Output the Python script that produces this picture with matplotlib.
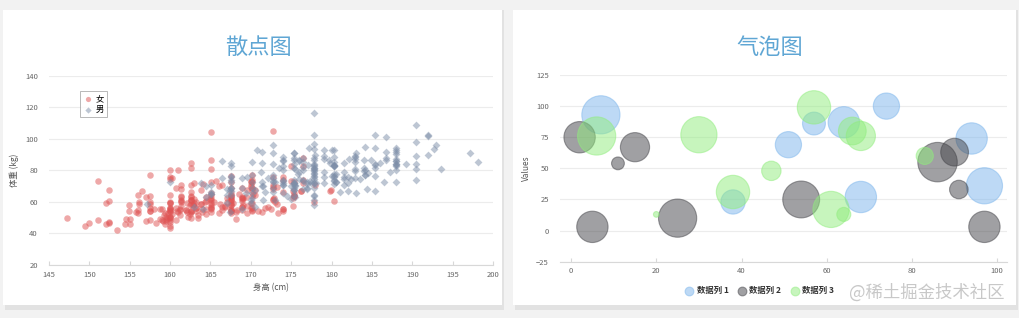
import matplotlib.pyplot as plt
from matplotlib.patches import Rectangle

plt.rcParams['font.family'] = ['Noto Sans CJK SC', 'DejaVu Sans']

# height (cm), weight (kg)
female = [
    [161.2, 51.6], [167.5, 59.0], [159.5, 49.2], [157.0, 63.0], [155.8, 53.6], [170.0, 59.0], [159.1, 47.6],
    [166.0, 69.8], [176.2, 66.8], [160.2, 75.2], [172.5, 55.2], [170.9, 54.2], [172.9, 62.5], [153.4, 42.0],
    [160.0, 50.0], [147.2, 49.8], [168.2, 49.2], [175.0, 73.2], [157.0, 47.8], [167.6, 68.8], [159.5, 50.6],
    [175.0, 82.5], [166.8, 57.2], [176.5, 87.8], [170.2, 72.8], [174.0, 54.5], [173.0, 59.8], [179.9, 67.3],
    [170.5, 67.8], [160.0, 47.0], [154.4, 46.2], [162.0, 55.0], [176.5, 83.0], [160.0, 54.4], [152.0, 45.8],
    [162.1, 53.6], [170.0, 73.2], [160.2, 52.1], [161.3, 67.9], [166.4, 56.6], [168.9, 62.3], [163.8, 58.5],
    [167.6, 54.5], [160.0, 50.2], [161.3, 60.3], [167.6, 58.3], [165.1, 56.2], [160.0, 50.2], [170.0, 72.9],
    [157.5, 59.8], [167.6, 61.0], [160.7, 69.1], [163.2, 55.9], [152.4, 46.5], [157.5, 54.3], [168.3, 54.8],
    [180.3, 60.7], [165.5, 60.0], [165.0, 62.0], [164.5, 60.3], [156.0, 52.7], [160.0, 74.3], [163.0, 62.0],
    [165.7, 73.1], [161.0, 80.0], [162.0, 54.7], [166.0, 53.2], [174.0, 75.7], [172.7, 61.1], [167.6, 55.7],
    [151.1, 48.7], [164.5, 52.3], [163.5, 50.0], [152.0, 59.3], [169.0, 62.5], [164.0, 55.7], [161.2, 54.8],
    [155.0, 45.9], [170.0, 70.6], [176.2, 67.2], [170.0, 69.4], [162.5, 58.2], [170.3, 64.8], [164.1, 71.6],
    [169.5, 52.8], [163.2, 59.8], [154.5, 49.0], [159.8, 50.0], [173.2, 69.2], [170.0, 55.9], [161.4, 63.4],
    [169.0, 58.2], [166.2, 58.6], [159.4, 45.7], [162.5, 52.2], [159.0, 48.6], [162.8, 57.8], [159.0, 55.6],
    [179.8, 66.8], [162.9, 59.4], [161.0, 53.6], [151.1, 73.2], [168.2, 53.4], [168.9, 69.0], [173.2, 58.4],
    [171.8, 56.2], [178.0, 70.6], [164.3, 59.8], [163.0, 72.0], [168.5, 65.2], [166.8, 56.6], [172.7, 105.2],
    [163.5, 51.8], [169.4, 63.4], [167.8, 59.0], [159.5, 47.6], [167.6, 63.0], [161.2, 55.2], [160.0, 45.0],
    [163.2, 54.0], [162.2, 50.2], [161.3, 60.2], [149.5, 44.8], [157.5, 58.8], [163.2, 56.4], [172.7, 62.0],
    [155.0, 49.2], [156.5, 67.2], [164.0, 53.8], [160.9, 54.4], [162.8, 58.0], [167.0, 59.8], [160.0, 54.8],
    [160.0, 43.2], [168.9, 60.5], [158.2, 46.4], [156.0, 64.4], [160.0, 48.8], [167.1, 62.2], [158.0, 55.5],
    [167.6, 57.8], [156.0, 54.6], [162.1, 59.2], [173.4, 52.7], [159.8, 53.2], [170.5, 64.5], [159.2, 51.8],
    [157.5, 56.0], [161.3, 63.6], [162.6, 63.2], [160.0, 59.5], [168.9, 56.8], [165.1, 64.1], [162.6, 50.0],
    [165.1, 72.3], [166.4, 55.0], [160.0, 55.9], [152.4, 60.4], [170.2, 69.1], [162.6, 84.5], [170.2, 55.9],
    [158.8, 55.5], [172.7, 69.5], [167.6, 76.4], [162.6, 61.4], [167.6, 65.9], [156.2, 58.6], [175.2, 66.8],
    [172.1, 56.6], [162.6, 58.6], [160.0, 55.9], [165.1, 59.1], [166.4, 70.7], [165.1, 56.8],
    [177.8, 60.0], [165.1, 58.2], [175.3, 72.7], [154.9, 54.1], [158.8, 49.1], [172.7, 75.9], [168.9, 55.0],
    [161.3, 57.3], [167.6, 55.0], [165.1, 65.5], [175.3, 65.5], [157.5, 48.6], [163.8, 58.6], [167.6, 63.6],
    [165.1, 55.2], [165.1, 62.7], [168.9, 56.6], [162.6, 53.9], [164.5, 63.2], [176.5, 73.6], [168.9, 62.0],
    [175.3, 63.6], [159.4, 53.2], [160.0, 53.4], [170.2, 55.0], [162.6, 70.5], [167.6, 54.5], [162.6, 54.5],
    [160.7, 55.9], [160.0, 59.0], [157.5, 63.6], [162.6, 54.5], [152.4, 47.3], [170.2, 67.7], [165.1, 80.9],
    [172.7, 70.5], [165.1, 60.9], [170.2, 63.6], [170.2, 54.5], [170.2, 59.1], [161.3, 70.5], [167.6, 52.7],
    [167.6, 62.7], [165.1, 86.3], [162.6, 66.4], [152.4, 67.3], [168.9, 63.0], [170.2, 73.6], [175.2, 62.3],
    [175.2, 57.7], [160.0, 55.4], [165.1, 104.1], [174.0, 55.5], [170.2, 77.3], [160.0, 80.5], [167.6, 64.5],
    [167.6, 72.3], [167.6, 61.4], [154.9, 58.2], [162.6, 81.8], [175.3, 63.6], [171.4, 53.4], [157.5, 54.5],
    [165.1, 53.6], [160.0, 60.0], [174.0, 73.6], [162.6, 61.4], [174.0, 55.5], [162.6, 63.6], [161.3, 60.9],
    [156.2, 60.0], [149.9, 46.8], [169.5, 57.3], [160.0, 64.1], [175.3, 63.6], [169.5, 67.3], [160.0, 75.5],
    [172.7, 68.2], [162.6, 61.4], [157.5, 76.8], [176.5, 71.8], [164.4, 55.5], [160.7, 48.6], [174.0, 66.4],
    [163.8, 67.3],
]

male = [
    [174.0, 65.6], [175.3, 71.8], [193.5, 80.7], [186.5, 72.6], [187.2, 78.8], [181.5, 74.8], [184.0, 86.4],
    [184.5, 78.4], [175.0, 62.0], [184.0, 81.6], [180.0, 76.6], [177.8, 83.6], [192.0, 90.0], [176.0, 74.6],
    [174.0, 71.0], [184.0, 79.6], [192.7, 93.8], [171.5, 70.0], [173.0, 72.4], [176.0, 85.9], [176.0, 78.8],
    [180.5, 77.8], [172.7, 66.2], [176.0, 86.4], [173.5, 81.8], [178.0, 89.6], [180.3, 82.8], [180.3, 76.4],
    [164.5, 63.2], [173.0, 60.9], [183.5, 74.8], [175.5, 70.0], [188.0, 72.4], [189.2, 84.1], [172.8, 69.1],
    [170.0, 59.5], [182.0, 67.2], [170.0, 61.3], [177.8, 68.6], [184.2, 80.1], [186.7, 87.8], [171.4, 84.7],
    [172.7, 73.4], [175.3, 72.1], [180.3, 82.6], [182.9, 88.7], [188.0, 84.1], [177.2, 94.1], [172.1, 74.9],
    [167.0, 59.1], [169.5, 75.6], [174.0, 86.2], [172.7, 75.3], [182.2, 87.1], [164.1, 55.2], [163.0, 57.0],
    [171.5, 61.4], [184.2, 76.8], [174.0, 86.8], [174.0, 72.2], [177.0, 71.6], [186.0, 84.8], [167.0, 68.2],
    [171.8, 66.1], [182.0, 72.0], [167.0, 64.6], [177.8, 74.8], [164.5, 70.0], [192.0, 101.6], [175.5, 63.2],
    [171.2, 79.1], [181.6, 78.9], [167.4, 67.7], [181.1, 66.0], [177.0, 68.2], [174.5, 63.9], [177.5, 72.0],
    [170.5, 56.8], [182.4, 74.5], [197.1, 90.9], [180.1, 93.0], [175.5, 80.9], [180.6, 72.7], [184.4, 68.0],
    [175.5, 70.9], [180.6, 72.5], [177.0, 72.5], [177.1, 83.4], [181.6, 75.5], [176.5, 73.0], [175.0, 70.2],
    [174.0, 73.4], [165.1, 70.5], [177.0, 68.9], [192.0, 102.3], [176.5, 68.4], [169.4, 65.9], [182.1, 75.7],
    [179.8, 84.5], [175.3, 87.7], [184.9, 86.4], [177.3, 73.2], [167.4, 53.9], [178.1, 72.0], [168.9, 55.5],
    [157.2, 58.4], [180.3, 83.2], [170.2, 72.7], [177.8, 64.1], [172.7, 72.3], [165.1, 65.0], [186.7, 86.4],
    [165.1, 65.0], [174.0, 88.6], [175.3, 84.1], [185.4, 66.8], [177.8, 75.5], [180.3, 93.2], [180.3, 82.7],
    [177.8, 58.0], [177.8, 79.5], [177.8, 78.6], [177.8, 71.8], [177.8, 116.4], [163.8, 72.2], [188.0, 83.6],
    [198.1, 85.5], [175.3, 90.9], [166.4, 85.9], [190.5, 89.1], [166.4, 75.0], [177.8, 77.7], [179.7, 86.4],
    [172.7, 90.9], [190.5, 73.6], [185.4, 76.4], [168.9, 69.1], [167.6, 84.5], [175.3, 64.5], [170.2, 69.1],
    [190.5, 108.6], [177.8, 86.4], [190.5, 80.9], [177.8, 87.7], [184.2, 94.5], [176.5, 80.2], [177.8, 72.0],
    [180.3, 71.4], [171.4, 72.7], [172.7, 84.1], [172.7, 76.8], [177.8, 63.6], [177.8, 80.9], [182.9, 80.9],
    [170.2, 85.5], [167.6, 68.6], [175.3, 67.7], [165.1, 66.4], [185.4, 102.3], [181.6, 70.5], [172.7, 95.9],
    [190.5, 84.1], [179.1, 87.3], [175.3, 71.8], [170.2, 65.9], [193.0, 95.9], [171.4, 91.4], [177.8, 81.8],
    [177.8, 96.8], [167.6, 69.1], [167.6, 82.7], [180.3, 75.5], [182.9, 79.5], [176.5, 73.6], [186.7, 91.8],
    [188.0, 84.1], [188.0, 85.9], [177.8, 81.8], [174.0, 82.5], [177.8, 80.5], [171.4, 70.0], [185.4, 81.8],
    [185.4, 84.1], [188.0, 90.5], [188.0, 91.4], [182.9, 89.1], [176.5, 85.0], [175.3, 69.1], [175.3, 73.6],
    [188.0, 80.5], [188.0, 82.7], [175.3, 86.4], [170.5, 67.7], [179.1, 92.7], [177.8, 93.6], [175.3, 70.9],
    [182.9, 75.0], [170.8, 93.2], [188.0, 93.2], [180.3, 77.7], [177.8, 61.4], [185.4, 94.1], [168.9, 75.0],
    [185.4, 83.6], [180.3, 85.5], [174.0, 73.9], [167.6, 66.8], [182.9, 87.3], [160.0, 72.3], [180.3, 88.6],
    [167.6, 75.5], [186.7, 101.4], [175.3, 91.1], [175.3, 67.3], [175.9, 77.7], [175.3, 81.8], [179.1, 75.5],
    [181.6, 84.5], [177.8, 76.6], [182.9, 85.0], [177.8, 102.5], [184.2, 77.3], [179.1, 71.8], [176.5, 87.9],
    [188.0, 94.3], [174.0, 70.9], [167.6, 64.5], [170.2, 77.3], [167.6, 72.3], [188.0, 87.3], [174.0, 80.0],
    [176.5, 82.3], [180.3, 73.6], [167.6, 74.1], [188.0, 85.9], [180.3, 73.2], [167.6, 76.3], [183.0, 65.9],
    [183.0, 90.9], [179.1, 89.1], [170.2, 62.3], [177.8, 82.7], [179.1, 79.1], [190.5, 98.2], [177.8, 84.1],
    [180.3, 83.2],
]

# bubble series: x, y, z
bubble1 = [[7, 93, 89], [51, 69, 42], [57, 86, 32], [64, 87, 60], [74, 100, 42],
           [68, 27, 60], [94, 74, 60], [97, 36, 80], [38, 23, 36]]
bubble2 = [[2, 75, 60], [15, 67, 52], [11, 54, 10], [5, 3, 60], [25, 10, 89],
           [54, 25, 83], [86, 55, 95], [90, 63, 47], [91, 33, 21], [97, 3, 60]]
bubble3 = [[6, 76, 89], [30, 77, 80], [47, 48, 23], [38, 31, 68], [57, 99, 68],
           [66, 80, 47], [68, 76, 52], [61, 17, 80], [64, 13, 12], [83, 60, 18], [20, 13, 2]]

fig = plt.figure(figsize=(10.2, 3.18), dpi=100)
fig.patch.set_facecolor('#f2f2f2')

# white cards with a faint shadow
for x0, x1 in [(3, 502), (513, 1016)]:
    fig.add_artist(Rectangle((x0 / 1020 + 0.002, 1 - 310 / 318), (x1 - x0) / 1020, 300 / 318,
                             transform=fig.transFigure, facecolor='#e2e2e2', edgecolor='none', zorder=0))
    fig.add_artist(Rectangle((x0 / 1020, 1 - 305 / 318), (x1 - x0) / 1020, 295 / 318,
                             transform=fig.transFigure, facecolor='white', edgecolor='none', zorder=0))

title_color = '#5fa6d4'
fig.text(258 / 1020, 1 - 47 / 318, '散点图', ha='center', va='center', fontsize=16, color=title_color)
fig.text(770 / 1020, 1 - 47 / 318, '气泡图', ha='center', va='center', fontsize=16, color=title_color)


def style_axis(ax):
    ax.set_facecolor('none')
    for s in ['top', 'right', 'left']:
        ax.spines[s].set_visible(False)
    ax.spines['bottom'].set_color('#d8d8d8')
    ax.spines['bottom'].set_linewidth(0.8)
    ax.grid(axis='y', color='#ececec', linewidth=0.8)
    ax.set_axisbelow(True)
    ax.tick_params(axis='y', length=0, labelsize=5.5, labelcolor='#666666', pad=8)
    ax.tick_params(axis='x', length=3, direction='in', color='#d8d8d8', labelsize=5.5,
                   labelcolor='#666666', pad=4)


# scatter
ax1 = fig.add_axes([49 / 1020, 1 - 265 / 318, 444 / 1020, 189.3 / 318])
style_axis(ax1)
fx = [p[0] for p in female]
fy = [p[1] for p in female]
mx = [p[0] for p in male]
my = [p[1] for p in male]
ax1.scatter(fx, fy, s=22, marker='o', color=(223 / 255, 83 / 255, 83 / 255, 0.5), linewidths=0, label='女')
ax1.scatter(mx, my, s=16, marker='D', color=(125 / 255, 142 / 255, 168 / 255, 0.5), linewidths=0, label='男')
ax1.set_xlim(145, 200)
ax1.set_ylim(20, 140)
ax1.set_xticks(range(145, 201, 5))
ax1.set_yticks(range(20, 141, 20))
ax1.set_xlabel('身高 (cm)', fontsize=6, color='#555555', labelpad=3)
ax1.set_ylabel('体重 (kg)', fontsize=6, color='#555555', labelpad=4)
leg = ax1.legend(loc='upper left', bbox_to_anchor=(0.06, 0.94), fontsize=6, frameon=True,
                 fancybox=False, edgecolor='#999999', handletextpad=0.3, borderpad=0.35,
                 labelspacing=0.2, handlelength=1.2, markerscale=0.8)
leg.get_frame().set_linewidth(0.6)

# bubbles
ax2 = fig.add_axes([560 / 1020, 1 - 261.7 / 318, 447 / 1020, 186.7 / 318])
style_axis(ax2)
colors = ['#7cb5ec', '#434348', '#90ed7d']
names = ['数据列 1', '数据列 2', '数据列 3']
for data, c, n in zip([bubble1, bubble2, bubble3], colors, names):
    ax2.scatter([d[0] for d in data], [d[1] for d in data], s=[d[2] * 8.5 for d in data],
                color=c, alpha=0.5, edgecolors=c, linewidths=0.8, label=n)
ax2.set_xlim(-2.6, 102.3)
ax2.set_ylim(-25, 125)
ax2.set_xticks(range(0, 101, 20))
ax2.set_yticks(range(-25, 126, 25))
ax2.set_ylabel('Values', fontsize=6, color='#555555', labelpad=4)
leg2 = ax2.legend(loc='upper left', bbox_to_anchor=(0.265, -0.1), ncol=3, fontsize=6, frameon=False,
                  handletextpad=0.3, columnspacing=1.0, handlelength=1.2, borderpad=0.2)
for t in leg2.get_texts():
    t.set_fontweight('bold')
    t.set_color('#333333')
for h in leg2.legend_handles:
    h.set_sizes([40])

fig.text(1005 / 1020, 1 - 293 / 318, '@稀土掘金技术社区', ha='right', va='center', fontsize=12.5,
         color='#c8c8c8')

fig.savefig('out.png', dpi=100, facecolor=fig.get_facecolor())
